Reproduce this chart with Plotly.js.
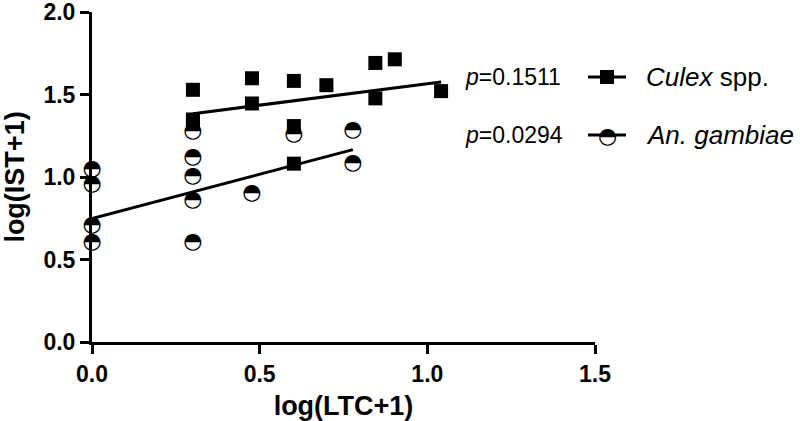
<!DOCTYPE html>
<html>
<head>
<meta charset="utf-8">
<script src="https://cdn.plot.ly/plotly-3.0.1.min.js"></script>
<style>html,body{margin:0;padding:0;background:#fff;}#chart{width:800px;height:421px;}</style>
</head>
<body>
<div id="chart"></div>
<script>
// Culex spp. points
var culexX = [0.301, 0.301, 0.301, 0.477, 0.477, 0.602, 0.602, 0.602, 0.699, 0.845, 0.845, 0.903, 1.041];
var culexY = [1.53, 1.35, 1.33, 1.60, 1.447, 1.584, 1.31, 1.082, 1.558, 1.693, 1.478, 1.715, 1.522];
// An. gambiae points
var gambX = [0, 0, 0, 0, 0.301, 0.301, 0.301, 0.301, 0.301, 0.477, 0.602, 0.778, 0.778];
var gambY = [1.048, 0.957, 0.705, 0.604, 1.275, 1.12, 1.006, 0.86, 0.604, 0.90, 1.257, 1.281, 1.082];
// regression lines (endpoints)
var culexFitX = [0.301, 1.041];
var culexFitY = [1.385, 1.578];
var gambFitX = [0, 0.778];
var gambFitY = [0.749, 1.167];
// legend texts
var seriesNames = ['<i>Culex</i> spp.', '<i>An. gambiae</i>'];
var pValues = ['<i>p</i>=0.1511', '<i>p</i>=0.0294'];
var xTicks = [0, 0.5, 1.0, 1.5];
var xTickText = ['0.0', '0.5', '1.0', '1.5'];
var yTicks = [0, 0.5, 1.0, 1.5, 2.0];
var yTickText = ['0.0', '0.5', '1.0', '1.5', '2.0'];

var halfSym = '\u25D3';
var gambText = gambX.map(function(){ return halfSym; });

var traces = [
  {x: culexFitX, y: culexFitY, mode: 'lines', line: {color: '#000', width: 3}, showlegend: false, cliponaxis: false},
  {x: gambFitX, y: gambFitY, mode: 'lines', line: {color: '#000', width: 3}, showlegend: false, cliponaxis: false},
  {x: culexX, y: culexY, mode: 'markers', marker: {symbol: 'square', size: 14, color: '#000', line: {width: 0}}, showlegend: false, cliponaxis: false},
  {x: gambX, y: gambY, mode: 'markers', marker: {symbol: 'circle', size: 13, color: '#fff', line: {width: 0}}, showlegend: false, cliponaxis: false},
  {x: gambX, y: gambY, mode: 'text', text: gambText, textposition: 'middle center',
   textfont: {family: 'DejaVu Sans', size: 22, color: '#000'}, showlegend: false, cliponaxis: false}
];

var T = 12, B = 79, L = 92, R = 205;
var plotW = 800 - L - R, plotH = 421 - T - B;
var pxX = function(px){ return (px - L) / plotW; };
var pxY = function(py){ return (421 - B - py) / plotH; };
var rows = [77, 135];

var annotations = [];
var shapes = [];
rows.forEach(function(ry, i){
  annotations.push({xref: 'paper', yref: 'paper', x: pxX(463), y: pxY(ry), xanchor: 'left', yanchor: 'middle',
    text: pValues[i], showarrow: false, font: {family: 'Liberation Sans, Arial', size: 23, color: '#000'}});
  annotations.push({xref: 'paper', yref: 'paper', x: pxX(644), y: pxY(ry), xanchor: 'left', yanchor: 'middle',
    text: seriesNames[i], showarrow: false, font: {family: 'Liberation Sans, Arial', size: 26, color: '#000'}});
  shapes.push({type: 'line', xref: 'paper', yref: 'paper', x0: pxX(588), x1: pxX(626), y0: pxY(ry), y1: pxY(ry),
    line: {color: '#000', width: 3}});
});
shapes.push({type: 'rect', xref: 'paper', yref: 'paper', xsizemode: 'pixel', ysizemode: 'pixel',
  xanchor: pxX(607), yanchor: pxY(rows[0]), x0: -7, x1: 7, y0: -7, y1: 7, fillcolor: '#000', line: {width: 0}});
shapes.push({type: 'circle', xref: 'paper', yref: 'paper', xsizemode: 'pixel', ysizemode: 'pixel',
  xanchor: pxX(607), yanchor: pxY(rows[1]), x0: -6.5, x1: 6.5, y0: -6.5, y1: 6.5, fillcolor: '#fff', line: {width: 0}});
annotations.push({xref: 'paper', yref: 'paper', x: pxX(607), y: pxY(rows[1]), xanchor: 'center', yanchor: 'middle',
  text: halfSym, showarrow: false, font: {family: 'DejaVu Sans', size: 22, color: '#000'}});

var axisCommon = {
  showgrid: false, zeroline: false, showline: true, linecolor: '#000', linewidth: 3,
  ticks: 'outside', ticklen: 9, tickwidth: 3, tickcolor: '#000', ticklabeloverflow: 'allow',
  tickfont: {family: 'Liberation Sans, Arial', size: 23, color: '#000', weight: 'bold'}
};

var layout = {
  width: 800, height: 421,
  margin: {l: L, r: R, t: T, b: B},
  paper_bgcolor: '#fff', plot_bgcolor: '#fff',
  showlegend: false,
  xaxis: Object.assign({}, axisCommon, {range: [0, 1.5], tickvals: xTicks, ticktext: xTickText,
    title: {text: 'log(LTC+1)', standoff: 14, font: {family: 'Liberation Sans, Arial', size: 27, color: '#000', weight: 'bold'}}}),
  yaxis: Object.assign({}, axisCommon, {range: [0, 2.002], tickvals: yTicks, ticktext: yTickText,
    title: {text: 'log(IST+1)', standoff: 12, font: {family: 'Liberation Sans, Arial', size: 27, color: '#000', weight: 'bold'}}}),
  annotations: annotations,
  shapes: shapes
};

Plotly.newPlot('chart', traces, layout, {staticPlot: true, displayModeBar: false});
</script>
</body>
</html>
